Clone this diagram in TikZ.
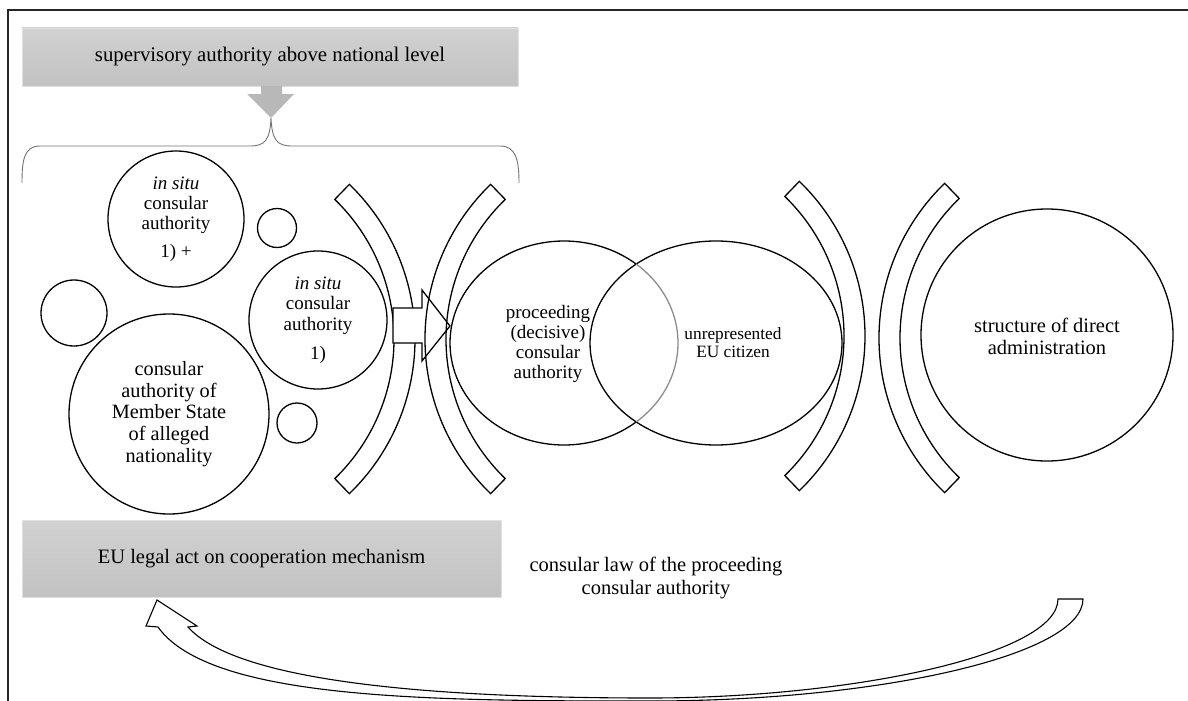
\documentclass[tikz,border=0pt]{standalone}
\usepackage{fontspec}
\setmainfont{Liberation Serif}
\usetikzlibrary{calc,shapes.geometric}
\newcommand\fsz[2]{\fontsize{#1}{#2}\selectfont}
\begin{document}
\begin{tikzpicture}[x=1pt,y=-1pt,
  ln/.style={line width=1.3pt, draw=black},
  bub/.style={circle, ln, inner sep=0pt, align=center},
  graybox/.style={draw=black!12, top color=black!18, bottom color=black!24, line width=0.6pt, inner sep=0pt},
  band/.style={ln, line join=miter},
  txt/.style={align=center, inner sep=0pt},
]
\useasboundingbox (0,0) rectangle (1188,701);
\draw[line width=1.4pt, black!85] (1190,10) -- (8,10) -- (8,703);

% top box, arrow and brace
\node[graybox, minimum width=496pt, minimum height=58pt, font=\fsz{20.8}{23}] (sup) at (270,57) {supervisory authority above national level};
\fill[black!28] (261,86) -- (282,86) -- (282,94) -- (294,94) -- (271,118) -- (247,94) -- (261,94) -- cycle;
\draw[black!55, line width=0.9pt] (22,183) .. controls (22,160) and (24,146) .. (40,146) -- (250,146)
  .. controls (265,146) and (270,140) .. (271,118) .. controls (272,140) and (277,146) .. (292,146)
  -- (500,146) .. controls (516,146) and (519,160) .. (519,183);

% left group of circles
\node[bub, minimum size=136pt, font=\fsz{19}{20}] (A) at (176,219) {\textit{in situ}\\consular\\authority\\[8pt]1) +};
\node[bub, minimum size=39pt] (B) at (277,228) {};
\node[bub, minimum size=66pt] (C) at (74,313) {};
\node[bub, minimum size=200pt, font=\fsz{20.3}{21.7}] (D) at (169,414) {consular\\authority of\\Member State\\of alleged\\nationality};
\node[bub, minimum size=138pt, font=\fsz{19}{20.5}] (E) at (318,320) {\textit{in situ}\\consular\\authority\\[9pt]1)};
\node[bub, minimum size=40pt] (F) at (297,423) {};

% bracket 1
\draw[band] ($(200,339)+(-46:215pt)$) arc[start angle=-46,end angle=46,radius=215pt]
  -- ($(200,339)+(46:194pt)$) arc[start angle=46,end angle=-46,radius=194pt] -- cycle;
% block arrow
\draw[band, fill=white] (393,308) -- (422,308) -- (422,290) -- (450,326) -- (422,361) -- (422,343) -- (393,343) -- cycle;
% bracket 2
\draw[band] ($(640,339)+(134:215pt)$) arc[start angle=134,end angle=226,radius=215pt]
  -- ($(640,339)+(226:194pt)$) arc[start angle=226,end angle=134,radius=194pt] -- cycle;

% Venn
\node[ellipse, ln, inner sep=0pt, minimum width=252pt, minimum height=204pt] (R) at (716,343) {};
\node[ellipse, inner sep=0pt, minimum width=228pt, minimum height=204pt] (L) at (564,343) {};
\draw[ln] ($(L.center)+(50.7:114pt and 102pt)$) arc[start angle=50.7, end angle=309.3, x radius=114pt, y radius=102pt];
\draw[ln, draw=black!45] ($(L.center)+(-50.7:114pt and 102pt)$) arc[start angle=-50.7, end angle=50.7, x radius=114pt, y radius=102pt];
\node[txt, font=\fsz{19}{19.7}] (Lt) at (548,344) {proceeding\\(decisive)\\consular\\authority};
\node[txt, font=\fsz{17.3}{18}] (Rt) at (733,343) {unrepresented\\EU citizen};

% bracket 3
\draw[band] ($(650,336)+(-46:215pt)$) arc[start angle=-46,end angle=46,radius=215pt]
  -- ($(650,336)+(46:194pt)$) arc[start angle=46,end angle=-46,radius=194pt] -- cycle;
% bracket 4
\draw[band] ($(1094,338)+(134:215pt)$) arc[start angle=134,end angle=226,radius=215pt]
  -- ($(1094,338)+(226:194pt)$) arc[start angle=226,end angle=134,radius=194pt] -- cycle;

% structure circle
\node[bub, minimum size=252pt] (S) at (1047,335) {};
\node[txt, font=\fsz{20.5}{22}] (St) at (1047,336) {structure of direct\\administration};

% lower box and text
\node[graybox, minimum width=479pt, minimum height=77pt, font=\fsz{20.5}{23}] (eu) at (261.5,558.5) {EU legal act on cooperation mechanism};
\node[txt, font=\fsz{20.5}{23}] (law) at (656,578) {consular law of the proceeding\\consular authority};

% curved return arrow
\coordinate (tip) at (157,600);
\draw[ln, line width=1.1pt, fill=white, line join=miter]
  (tip) -- (197,626) -- (188,627)
  .. controls (235,680) and (420,698) .. (650,698)
  .. controls (850,698) and (1058,655) .. (1058,599)
  -- (1083,599)
  .. controls (1083,655) and (880,701) .. (650,701)
  .. controls (430,701) and (210,700) .. (158,627)
  -- (146,626) -- cycle;
\end{tikzpicture}
\end{document}
